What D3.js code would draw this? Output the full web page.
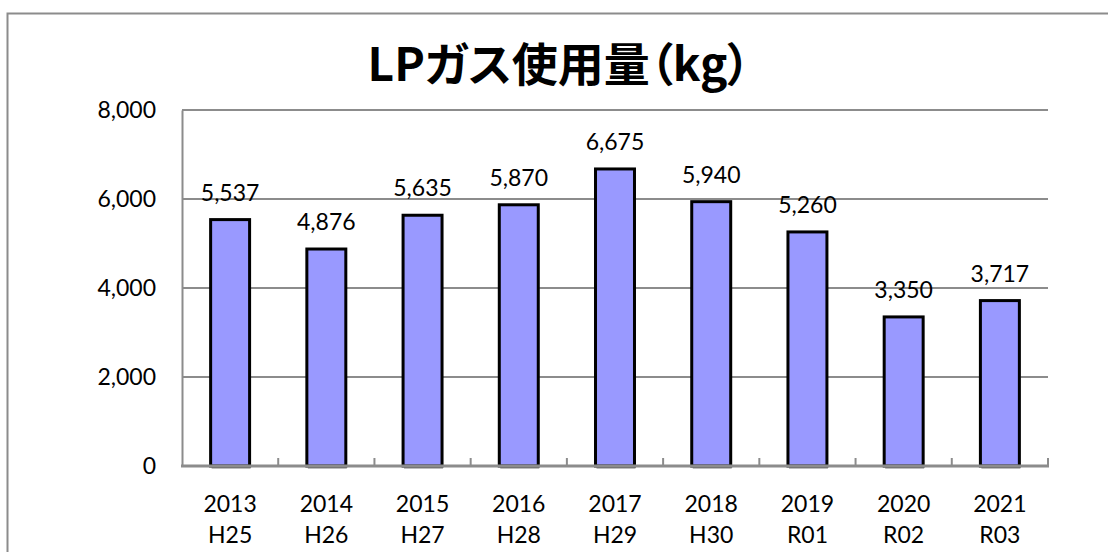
<!DOCTYPE html>
<html>
<head>
<meta charset="utf-8">
<script src="https://cdn.jsdelivr.net/npm/d3@7"></script>
<style>
  body { margin: 0; background: #fff; }
  svg { display: block; }
</style>
</head>
<body>
<div id="chart"></div>
<script>
// data
const years = ["2013", "2014", "2015", "2016", "2017", "2018", "2019", "2020", "2021"];
const eras = ["H25", "H26", "H27", "H28", "H29", "H30", "R01", "R02", "R03"];
const usage = [5537, 4876, 5635, 5870, 6675, 5940, 5260, 3350, 3717];
const yTicks = [0, 2000, 4000, 6000, 8000];

const width = 1108, height = 552;
const plot = { left: 182, right: 1048, top: 110, bottom: 466 };
const fmt = d3.format(",");
const numFont = "Lato, 'Open Sans', sans-serif";

const svg = d3.select("#chart")
    .append("svg")
    .attr("width", width)
    .attr("height", height);

// outer chart frame (runs off the right and bottom edges)
svg.append("rect")
    .attr("x", 7.5).attr("y", 13.5)
    .attr("width", 1200).attr("height", 600)
    .attr("fill", "#fff")
    .attr("stroke", "#8c8c8c")
    .attr("stroke-width", 2);

// title
svg.append("text")
    .attr("x", 559)
    .attr("y", 81)
    .attr("text-anchor", "middle")
    .style("font-family", "'Noto Sans CJK JP', sans-serif")
    .style("font-weight", "bold")
    .style("font-size", "46px")
    .style("font-feature-settings", "'palt'")
    .text("LPガス使用量（kg）");

const x = d3.scaleBand()
    .domain(years)
    .range([plot.left, plot.right])
    .paddingInner(0.595)
    .paddingOuter(0.2975);

const xCat = d3.scaleBand()
    .domain(years)
    .range([plot.left, plot.right]);

const y = d3.scaleLinear()
    .domain([0, 8000])
    .range([plot.bottom, plot.top]);

// gridlines
svg.append("g")
    .selectAll("line")
    .data(yTicks.filter(d => d > 0))
    .enter()
    .append("line")
    .attr("x1", plot.left).attr("x2", plot.right)
    .attr("y1", d => y(d)).attr("y2", d => y(d))
    .attr("stroke", "#8c8c8c")
    .attr("stroke-width", 2);

// y axis labels
const yAxis = d3.axisLeft(y).tickValues(yTicks).tickFormat(fmt).tickSize(0).tickPadding(26);
const gy = svg.append("g")
    .attr("transform", `translate(${plot.left},0)`)
    .call(yAxis);
gy.select(".domain").attr("stroke", "#8c8c8c").attr("stroke-width", 2);
gy.selectAll("text")
    .style("font-family", numFont)
    .style("font-size", "23px")
    .attr("fill", "#000");

// bar shadows
svg.append("g")
    .selectAll("rect")
    .data(usage)
    .enter()
    .append("rect")
    .attr("x", (d, i) => x(years[i]) + 1)
    .attr("y", d => y(d) + 3)
    .attr("width", x.bandwidth())
    .attr("height", d => plot.bottom - y(d))
    .attr("fill", "#bdbdbd");

// bars
svg.append("g")
    .selectAll("rect")
    .data(usage)
    .enter()
    .append("rect")
    .attr("x", (d, i) => x(years[i]))
    .attr("y", d => y(d))
    .attr("width", x.bandwidth())
    .attr("height", d => plot.bottom - y(d))
    .attr("fill", "#9999ff")
    .attr("stroke", "#000")
    .attr("stroke-width", 3);

// x axis line and inward ticks at category boundaries
svg.append("line")
    .attr("x1", plot.left - 1).attr("x2", plot.right + 1)
    .attr("y1", plot.bottom).attr("y2", plot.bottom)
    .attr("stroke", "#8c8c8c")
    .attr("stroke-width", 3);

svg.append("g")
    .selectAll("line")
    .data(years.slice(1).concat(["end"]))
    .enter()
    .append("line")
    .attr("x1", (d, i) => i < years.length - 1 ? xCat(d) : plot.right)
    .attr("x2", (d, i) => i < years.length - 1 ? xCat(d) : plot.right)
    .attr("y1", plot.bottom)
    .attr("y2", plot.bottom - 8)
    .attr("stroke", "#8c8c8c")
    .attr("stroke-width", 2);

// value labels
svg.append("g")
    .selectAll("text")
    .data(usage)
    .enter()
    .append("text")
    .attr("x", (d, i) => xCat(years[i]) + xCat.bandwidth() / 2)
    .attr("y", d => y(d) - 19)
    .attr("text-anchor", "middle")
    .style("font-family", numFont)
    .style("font-size", "23px")
    .text(d => fmt(d));

// category labels, two lines
const cat = svg.append("g")
    .selectAll("text")
    .data(years)
    .enter()
    .append("text")
    .attr("x", d => xCat(d) + xCat.bandwidth() / 2)
    .attr("text-anchor", "middle")
    .style("font-family", numFont)
    .style("font-size", "23px");
cat.append("tspan")
    .attr("x", d => xCat(d) + xCat.bandwidth() / 2)
    .attr("y", 512)
    .text(d => d);
cat.append("tspan")
    .attr("x", d => xCat(d) + xCat.bandwidth() / 2)
    .attr("y", 543)
    .text((d, i) => eras[i]);
</script>
</body>
</html>
